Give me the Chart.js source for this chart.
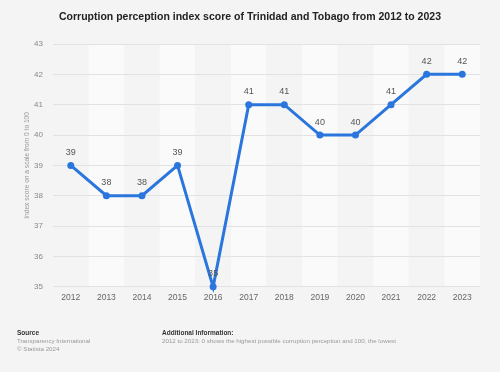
<!DOCTYPE html>
<html><head><meta charset="utf-8">
<script src="https://cdn.jsdelivr.net/npm/chart.js@4"></script>
<style>html,body{margin:0;padding:0;background:#f4f4f4;}canvas{display:block;}</style>
</head><body>
<canvas id="c" width="500" height="372"></canvas>
<script>
const years = ['2012','2013','2014','2015','2016','2017','2018','2019','2020','2021','2022','2023'];
const scores = [39,38,38,39,35,41,41,40,40,41,42,42];
const yTicks = [35,36,37,38,39,40,41,42,43];
const titleText = 'Corruption perception index score of Trinidad and Tobago from 2012 to 2023';
const yTitle = 'Index score on a scale from 0 to 100';

const FONT = 'Arial, "Liberation Sans", Helvetica, sans-serif';

const decor = {
  id: 'decor',
  beforeDraw(chart) {
    const ctx = chart.ctx, a = chart.chartArea;
    ctx.save();
    ctx.fillStyle = '#f4f4f4';
    ctx.fillRect(0, 0, chart.width, chart.height);
    const n = years.length;
    const w = (a.right - a.left) / n;
    for (let i = 0; i < n; i++) {
      ctx.fillStyle = (i % 2 === 1) ? '#fafafa' : '#f4f4f4';
      ctx.fillRect(a.left + i * w, a.top, w, a.bottom - a.top);
    }
    ctx.restore();
  },
  afterDraw(chart) {
    const ctx = chart.ctx, a = chart.chartArea;
    ctx.save();
    ctx.fillStyle = '#222';
    ctx.font = 'bold 10.5px ' + FONT;
    ctx.textAlign = 'center';
    ctx.textBaseline = 'middle';
    ctx.fillText(titleText, 250, 17);
    ctx.save();
    ctx.translate(27, (a.top + a.bottom) / 2);
    ctx.rotate(-Math.PI / 2);
    ctx.font = '6.6px ' + FONT;
    ctx.fillStyle = '#999';
    ctx.fillText(yTitle, 0, 0);
    ctx.restore();
    const meta = chart.getDatasetMeta(0);
    ctx.font = '9px ' + FONT;
    ctx.fillStyle = '#555';
    ctx.textAlign = 'center';
    meta.data.forEach((pt, i) => {
      ctx.fillText(String(scores[i]), pt.x, pt.y - 13);
    });
    ctx.textAlign = 'left';
    ctx.textBaseline = 'middle';
    ctx.fillStyle = '#333';
    ctx.font = 'bold 6.5px ' + FONT;
    ctx.fillText('Source', 17, 333);
    ctx.fillText('Additional Information:', 162, 333);
    ctx.font = '6.2px ' + FONT;
    ctx.fillStyle = '#999';
    ctx.fillText('Transparency International', 17, 341.5);
    ctx.fillText('\u00A9 Statista 2024', 17, 349);
    ctx.fillText('2012 to 2023: 0 shows the highest possible corruption perception and 100, the lowest', 162, 341.5);
    ctx.restore();
  }
};

new Chart(document.getElementById('c'), {
  type: 'line',
  data: {
    labels: years,
    datasets: [{
      data: scores,
      borderColor: '#2a76dd',
      backgroundColor: '#2a76dd',
      borderWidth: 3,
      pointRadius: 3.5,
      pointHoverRadius: 3.5,
      pointBackgroundColor: '#2a76dd',
      pointBorderWidth: 0,
      tension: 0,
      clip: false
    }]
  },
  options: {
    responsive: false,
    animation: false,
    devicePixelRatio: 1,
    layout: { padding: { top: 44, left: 0, right: 20, bottom: 63 } },
    plugins: { legend: { display: false }, tooltip: { enabled: false }, title: { display: false } },
    scales: {
      x: {
        type: 'category',
        offset: true,
        grid: { display: false, drawTicks: false },
        border: { display: false },
        ticks: { color: '#666', font: { size: 8.5, family: FONT }, padding: 6, maxRotation: 0 }
      },
      y: {
        min: 35, max: 43,
        afterBuildTicks(s) { s.ticks = yTicks.map(v => ({ value: v })); },
        grid: { color: '#e2e2e2', lineWidth: 1, drawTicks: false },
        border: { display: false },
        ticks: { color: '#888', font: { size: 8, family: FONT }, padding: 10 },
        afterFit(s) { s.width = 53; }
      }
    }
  },
  plugins: [decor]
});
</script>
</body></html>
